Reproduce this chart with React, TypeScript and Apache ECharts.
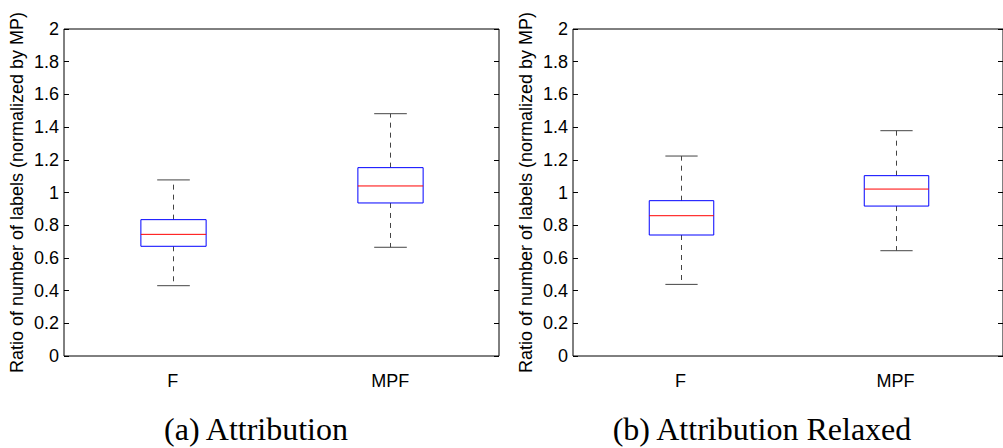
import React, { useEffect, useRef } from "react";
import * as echarts from "echarts";

const categories = ["F", "MPF"];
// [min, q1, median, q3, max]
const attribution = [
  [0.43, 0.671, 0.744, 0.834, 1.077],
  [0.665, 0.936, 1.04, 1.152, 1.482],
];
const attributionRelaxed = [
  [0.438, 0.74, 0.858, 0.95, 1.223],
  [0.644, 0.917, 1.021, 1.103, 1.378],
];
const yTicks = [0, 0.2, 0.4, 0.6, 0.8, 1, 1.2, 1.4, 1.6, 1.8, 2];
const yLabel = "Ratio of number of labels (normalized by MP)";
const captions = ["(a) Attribution", "(b) Attribution Relaxed"];

const SANS = "'Liberation Sans', Arial, Helvetica, sans-serif";

function renderBox(params: any, api: any) {
  const idx = api.value(0);
  const mn = api.coord([idx, api.value(1)]);
  const q1 = api.coord([idx, api.value(2)]);
  const md = api.coord([idx, api.value(3)]);
  const q3 = api.coord([idx, api.value(4)]);
  const mx = api.coord([idx, api.value(5)]);
  const band = api.size([1, 0])[0];
  const bw = band * 0.3;
  const cw = band * 0.15;
  const cx = Math.round(mn[0]) + 0.5;
  const wStyle = { stroke: "#444", lineWidth: 1, lineDash: [5, 5] };
  const cStyle = { stroke: "#444", lineWidth: 1 };
  return {
    type: "group",
    children: [
      { type: "line", shape: { x1: cx, y1: q3[1], x2: cx, y2: mx[1] }, style: wStyle },
      { type: "line", shape: { x1: cx, y1: q1[1], x2: cx, y2: mn[1] }, style: wStyle },
      { type: "line", shape: { x1: cx - cw / 2, y1: mx[1], x2: cx + cw / 2, y2: mx[1] }, style: cStyle },
      { type: "line", shape: { x1: cx - cw / 2, y1: mn[1], x2: cx + cw / 2, y2: mn[1] }, style: cStyle },
      {
        type: "rect",
        shape: { x: cx - bw / 2, y: q3[1], width: bw, height: q1[1] - q3[1] },
        style: { fill: "#fff", stroke: "#0000ff", lineWidth: 1 },
      },
      { type: "line", shape: { x1: cx - bw / 2, y1: md[1], x2: cx + bw / 2, y2: md[1] }, style: { stroke: "#ff0000", lineWidth: 1 } },
    ],
  };
}

export default function App() {
  const ref = useRef<HTMLDivElement>(null);
  useEffect(() => {
    document.body.style.margin = "0";
    const chart = echarts.init(ref.current!, null, { renderer: "svg" });
    const grids = [
      { left: 64, top: 29, width: 435, height: 327 },
      { left: 573, top: 29, width: 435, height: 327 },
    ];
    const datasets = [attribution, attributionRelaxed];
    const xAxes: any[] = [];
    const yAxes: any[] = [];
    const series: any[] = [];
    grids.forEach((g, i) => {
      xAxes.push({
        type: "category",
        gridIndex: i,
        data: categories,
        boundaryGap: true,
        axisLine: { show: false },
        axisTick: { show: false },
        axisLabel: { margin: 16, color: "#000", fontSize: 18, fontFamily: SANS },
      });
      yAxes.push({
        type: "value",
        gridIndex: i,
        min: 0,
        max: 2,
        interval: 0.2,
        name: yLabel,
        nameLocation: "middle",
        nameRotate: 90,
        nameGap: 38,
        nameTextStyle: { color: "#000", fontSize: 18, fontFamily: SANS },
        axisLine: { show: false },
        axisTick: { show: true, inside: true, length: 5, lineStyle: { color: "#000" } },
        axisLabel: {
          margin: 5,
          color: "#000",
          fontSize: 18,
          fontFamily: SANS,
          formatter: (v: number) => {
            const t = yTicks.find((x) => Math.abs(x - v) < 1e-6);
            return t === undefined ? "" : String(t);
          },
        },
        splitLine: { show: false },
      });
      yAxes.push({
        type: "value",
        gridIndex: i,
        position: "right",
        min: 0,
        max: 2,
        interval: 0.2,
        axisLine: { show: false },
        axisTick: { show: true, inside: true, length: 5, lineStyle: { color: "#000" } },
        axisLabel: { show: false },
        splitLine: { show: false },
      });
      series.push({
        type: "custom",
        xAxisIndex: i,
        yAxisIndex: i * 2,
        renderItem: renderBox,
        data: datasets[i].map((d, k) => [k, ...d]),
        encode: { x: 0, y: [1, 2, 3, 4, 5] },
        z: 3,
      });
    });
    const capFont = "32px 'Liberation Serif', 'Times New Roman', serif";
    chart.setOption({
      animation: false,
      backgroundColor: "#fff",
      grid: grids.map((g) => ({ ...g, show: true, borderColor: "#000", borderWidth: 1, backgroundColor: "transparent" })),
      xAxis: xAxes,
      yAxis: yAxes,
      series,
      graphic: [
        {
          type: "text",
          x: 256,
          y: 429,
          style: { text: captions[0], font: capFont, fill: "#000", textAlign: "center", textVerticalAlign: "middle" },
        },
        {
          type: "text",
          x: 762,
          y: 429,
          style: { text: captions[1], font: capFont, fill: "#000", textAlign: "center", textVerticalAlign: "middle" },
        },
      ],
    });
    return () => chart.dispose();
  }, []);
  return <div ref={ref} style={{ width: 1003, height: 448 }} />;
}
